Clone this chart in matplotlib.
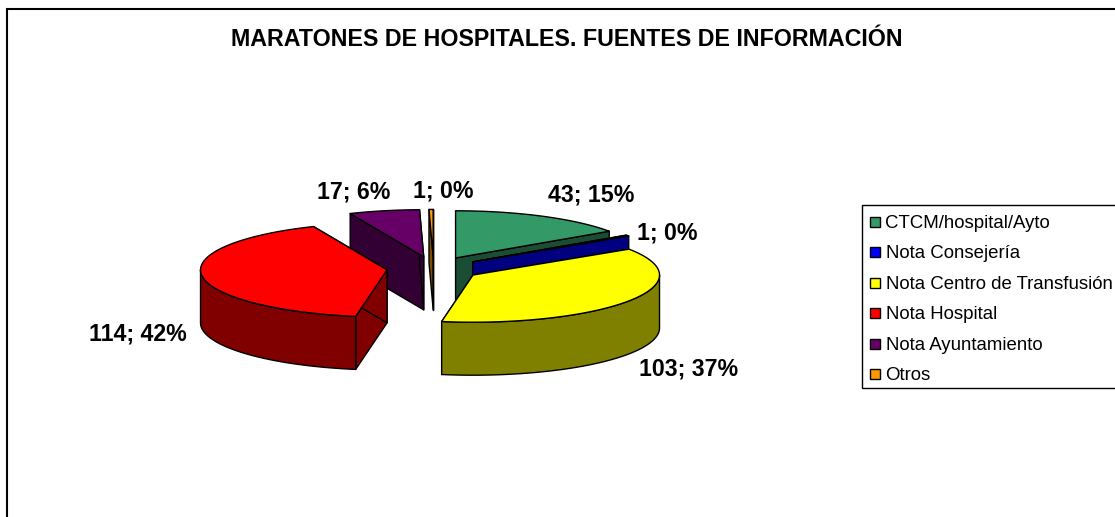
import numpy as np
import matplotlib
matplotlib.use('Agg')
import matplotlib.pyplot as plt
from matplotlib.patches import Polygon, Rectangle

plt.rcParams['font.family'] = ['Liberation Sans', 'DejaVu Sans']

# datos
categories = ['CTCM/hospital/Ayto', 'Nota Consejería', 'Nota Centro de Transfusión',
              'Nota Hospital', 'Nota Ayuntamiento', 'Otros']
values = [43, 1, 103, 114, 17, 1]
percents = [15, 0, 37, 42, 6, 0]
colors = ['#339966', '#0000FF', '#FFFF00', '#FF0000', '#660066', '#FF9900']
dark_colors = ['#1A4D33', '#000080', '#808000', '#800000', '#330033', '#804D00']
title = 'MARATONES DE HOSPITALES. FUENTES DE INFORMACIÓN'

# geometria en pixeles
cx, cy = 433.7, 268.5
rx, tilt = 186.5, 0.253
explode = 47.0
depth = 53.0
label_pos = [(591, 195), (667, 233), (689, 369), (138, 334), (353.5, 192), (443, 191)]

fig = plt.figure(figsize=(11.15, 5.17), dpi=100)
ax = fig.add_axes([0, 0, 1, 1])
ax.set_xlim(0, 1115)
ax.set_ylim(517, 0)
ax.axis('off')

# marco: el borde derecho e inferior quedan fuera de la imagen
ax.plot([7, 7, 1115], [517, 9, 9], color='black', lw=1.5, solid_joinstyle='miter')
ax.text(566.5, 39, title, ha='center', va='center', fontsize=16.75, fontweight='bold')


def point(ax0, ay0, ang):
    return ax0 + rx * np.sin(ang), ay0 - rx * tilt * np.cos(ang)


total = sum(values)
edges = np.cumsum([0] + values) / total * 2 * np.pi
slices = []
for i in range(len(values)):
    mid = (edges[i] + edges[i + 1]) / 2
    apex_x = cx + explode * np.sin(mid)
    apex_y = cy - explode * tilt * np.cos(mid)
    slices.append((apex_y, i, apex_x, edges[i], edges[i + 1]))

# se pinta de atras hacia delante
for apex_y, i, apex_x, a0, a1 in sorted(slices):
    style = dict(fc=dark_colors[i], ec='black', lw=1.0, joinstyle='round')
    for a in (a0, a1):
        x, y = point(apex_x, apex_y, a)
        ax.add_patch(Polygon([(apex_x, apex_y), (x, y), (x, y + depth), (apex_x, apex_y + depth)], **style))
    # pared exterior, solo la parte delantera
    lo, hi = max(a0, np.pi / 2), min(a1, 3 * np.pi / 2)
    if hi > lo:
        t = np.linspace(lo, hi, 80)
        xs, ys = point(apex_x, apex_y, t)
        wall = np.r_[np.c_[xs, ys], np.c_[xs, ys + depth][::-1]]
        ax.add_patch(Polygon(wall, **style))
    t = np.linspace(a0, a1, 80)
    xs, ys = point(apex_x, apex_y, t)
    top = np.r_[[[apex_x, apex_y]], np.c_[xs, ys]]
    ax.add_patch(Polygon(top, fc=colors[i], ec='black', lw=1.0, joinstyle='round'))

for i, (x, y) in enumerate(label_pos):
    ax.text(x, y, f'{values[i]}; {percents[i]}%', ha='center', va='center',
            fontsize=16.7, fontweight='bold')

# leyenda
ax.plot([1115, 862, 862, 1115], [205, 205, 388, 388], color='black', lw=1.0, solid_joinstyle='miter')
for i, name in enumerate(categories):
    y = 222 + i * 30.4
    ax.add_patch(Rectangle((870, y - 5), 10, 10, fc=colors[i], ec='black', lw=1.0))
    ax.text(885.5, y + 6, name, ha='left', va='baseline', fontsize=13.4)

fig.savefig('out.png', dpi=100)
